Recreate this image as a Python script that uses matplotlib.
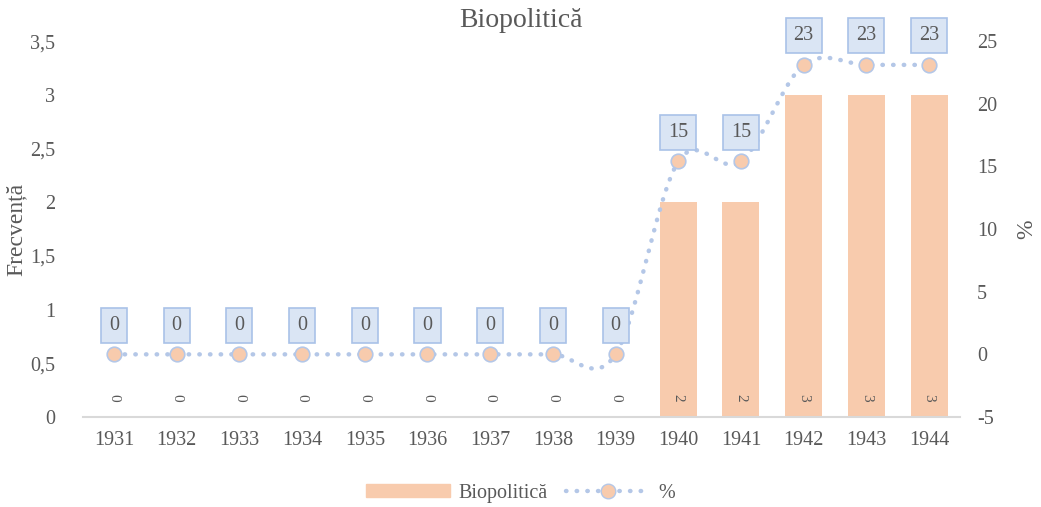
import numpy as np
import matplotlib.pyplot as plt
from matplotlib.lines import Line2D
from matplotlib.patches import Patch

plt.rcParams['font.family'] = ['Liberation Serif', 'DejaVu Serif']
plt.rcParams['axes.unicode_minus'] = False

years = ['1931', '1932', '1933', '1934', '1935', '1936', '1937',
         '1938', '1939', '1940', '1941', '1942', '1943', '1944']
freq = [0, 0, 0, 0, 0, 0, 0, 0, 0, 2, 2, 3, 3, 3]
pct = [0, 0, 0, 0, 0, 0, 0, 0, 0, 15.4, 15.4, 23.1, 23.1, 23.1]
pct_labels = ['0', '0', '0', '0', '0', '0', '0', '0', '0', '15', '15', '23', '23', '23']

left_ticks = [0, 0.5, 1, 1.5, 2, 2.5, 3, 3.5]
right_ticks = [-5, 0, 5, 10, 15, 20, 25]

grey = '#595959'
bar_col = '#F8CBAD'
line_col = '#B4C7E7'
dots = (0, (0.1, 2.3))


def smooth(x, y, n=20):
    # catmull-rom like Excel's smoothed line
    x = np.asarray(x, float)
    y = np.asarray(y, float)
    px = np.concatenate([[x[0]], x, [x[-1]]])
    py = np.concatenate([[y[0]], y, [y[-1]]])
    xs, ys = [], []
    for i in range(1, len(px) - 2):
        t = np.linspace(0, 1, n)
        for arr, out in ((px, xs), (py, ys)):
            p0, p1, p2, p3 = arr[i - 1], arr[i], arr[i + 1], arr[i + 2]
            out.extend(0.5 * ((2 * p1) + (-p0 + p2) * t
                              + (2 * p0 - 5 * p1 + 4 * p2 - p3) * t ** 2
                              + (-p0 + 3 * p1 - 3 * p2 + p3) * t ** 3))
    return np.array(xs), np.array(ys)


fig = plt.figure(figsize=(10.41, 5.07), dpi=100)
ax = fig.add_axes([0.0794, 0.1775, 0.8432, 0.7415])
x = np.arange(len(years))

ax.bar(x, freq, width=0.59, color=bar_col, zorder=2)
for xi, v in zip(x, freq):
    ax.text(xi, 0.18, str(v), rotation=-90, ha='center', va='center',
            fontsize=11, color=grey, zorder=3)

ax.set_xlim(-0.5, len(years) - 0.5)
ax.set_ylim(0, 3.5)
ax.set_yticks(left_ticks)
ax.set_yticklabels([str(t).replace('.', ',') for t in left_ticks])
ax.set_xticks(x)
ax.set_xticklabels(years)
ax.tick_params(length=0, labelsize=14.5, colors=grey, pad=10)
ax.tick_params(axis='y', pad=20)
for s in ['top', 'right', 'left']:
    ax.spines[s].set_visible(False)
ax.spines['bottom'].set_color('#D9D9D9')
ax.spines['bottom'].set_linewidth(1.5)
ax.set_ylabel('Frecvență', fontsize=17, color=grey, labelpad=2)

ax2 = ax.twinx()
ax2.set_ylim(-5, 25)
ax2.set_yticks(right_ticks)
ax2.tick_params(length=0, labelsize=14.5, colors=grey, pad=12)
for s in ax2.spines.values():
    s.set_visible(False)
ax2.set_ylabel('%', fontsize=17, color=grey, labelpad=14)

sx, sy = smooth(x, pct)
ax2.plot(sx, sy, color=line_col, linestyle=dots, linewidth=3.2,
         dash_capstyle='round', zorder=3)
ax2.plot(x, pct, linestyle='none', marker='o', markersize=10.5,
         markerfacecolor=bar_col, markeredgecolor=line_col, markeredgewidth=1.2,
         zorder=4)
for xi, v, lab in zip(x, pct, pct_labels):
    ax2.annotate(lab, (xi, v), xytext=(0, 21), textcoords='offset points',
                 ha='center', va='center', fontsize=14.5, color=grey,
                 bbox=dict(boxstyle='square,pad=0.4', fc='#DAE5F4', ec='#A9C2E8', lw=1.2),
                 zorder=5)

fig.suptitle('Biopolitică', fontsize=20, color=grey, y=0.985)

handles = [Patch(color=bar_col, label='Biopolitică'),
           Line2D([0], [0], color=line_col, linestyle=dots, linewidth=3.2,
                  dash_capstyle='round', marker='o', markersize=10.5,
                  markerfacecolor=bar_col, markeredgecolor=line_col, label='%')]
leg = fig.legend(handles=handles, loc='center', bbox_to_anchor=(0.5, 0.027), ncol=2,
                 frameon=False, fontsize=14.5, handlelength=4.2, handleheight=0.6,
                 columnspacing=0.9, handletextpad=0.4)
for t in leg.get_texts():
    t.set_color(grey)

fig.savefig('out.png', dpi=100)
